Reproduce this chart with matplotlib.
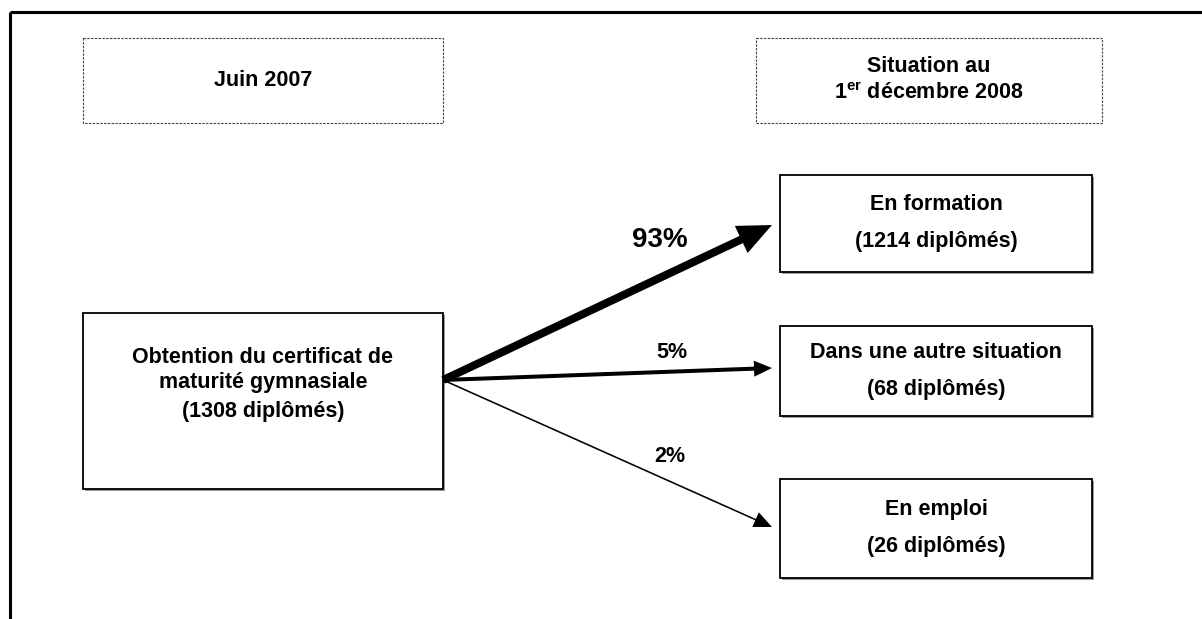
#!/usr/bin/env python3
"""
Flow diagram: situation of the 2007 maturity graduates on 1 December 2008.
"""

import matplotlib
matplotlib.use("Agg")
import matplotlib.pyplot as plt
from matplotlib.patches import Rectangle

# Data
start_label = "Obtention du certificat de\nmaturité gymnasiale"
start_count = 1308
dest_labels = ["En formation", "Dans une autre situation", "En emploi"]
dest_counts = [1214, 68, 26]
dest_pcts = [93, 5, 2]
header_left = "Juin 2007"
header_right = "Situation au\n1$^{\\mathrm{er}}$ décembre 2008"

# Fonts (Arial-like bold)
plt.rcParams["font.family"] = ["Liberation Sans", "DejaVu Sans"]
plt.rcParams["font.weight"] = "bold"
plt.rcParams["mathtext.fontset"] = "custom"
plt.rcParams["mathtext.rm"] = "Liberation Sans:bold"
plt.rcParams["mathtext.bf"] = "Liberation Sans:bold"

W, H = 1202, 619
fig = plt.figure(figsize=(W / 100, H / 100), dpi=100)
ax = fig.add_axes([0, 0, 1, 1])
ax.set_xlim(0, W)
ax.set_ylim(H, 0)
ax.axis("off")

FS = 15.5


def box(x0, y0, x1, y1, dashed=False):
    if dashed:
        ax.add_patch(Rectangle((x0, y0), x1 - x0, y1 - y0, fill=False,
                               edgecolor="#444444", lw=0.8,
                               linestyle=(0, (2.2, 1.2))))
    else:
        # slight drop shadow
        ax.add_patch(Rectangle((x0 + 1.5, y0 + 1.5), x1 - x0, y1 - y0,
                               facecolor="#9a9a9a", edgecolor="none"))
        ax.add_patch(Rectangle((x0, y0), x1 - x0, y1 - y0, facecolor="white",
                               edgecolor="black", lw=1.3))


# outer frame (top and left edges only visible)
ax.plot([10, W], [12, 12], color="black", lw=2.2, solid_capstyle="butt")
ax.plot([10, 10], [12, H], color="black", lw=2.2, solid_capstyle="butt")

# headers
box(83, 38, 443, 123, dashed=True)
ax.text(263, 80, header_left, ha="center", va="center", fontsize=FS)
box(756, 38, 1102, 123, dashed=True)
ax.text(929, 80, header_right, ha="center", va="center", fontsize=FS,
        linespacing=1.3)

# start box
box(83, 313, 443, 489)
ax.text(263, 370, start_label, ha="center", va="center", fontsize=FS,
        linespacing=1.3)
ax.text(263, 411, f"({start_count} diplômés)", ha="center", va="center",
        fontsize=FS)

# destination boxes
dest_boxes = [(175, 272), (326, 416), (479, 578)]
arrow_tips = [225, 368, 527]
shaft_w = [8, 4, 1.6]
head_w = [30, 16, 16]
head_l = [34, 18, 18]
pct_pos = [(660, 240), (672, 352), (670, 457)]
pct_fs = [20, FS, FS]

ox, oy = 443, 380
for i, (lab, cnt, pct) in enumerate(zip(dest_labels, dest_counts, dest_pcts)):
    y0, y1 = dest_boxes[i]
    box(780, y0, 1092, y1)
    yc = (y0 + y1) / 2
    ax.text(936, yc - 19, lab, ha="center", va="center", fontsize=FS)
    ax.text(936, yc + 18, f"({cnt} diplômés)", ha="center", va="center",
            fontsize=FS)

    tx, ty = 772, arrow_tips[i]
    ax.arrow(ox, oy, tx - ox, ty - oy, width=shaft_w[i], head_width=head_w[i],
             head_length=head_l[i], length_includes_head=True,
             color="black", lw=0)
    px, py = pct_pos[i]
    ax.text(px, py, f"{pct}%", ha="center", va="center", fontsize=pct_fs[i])

fig.savefig("out.png", dpi=100)
